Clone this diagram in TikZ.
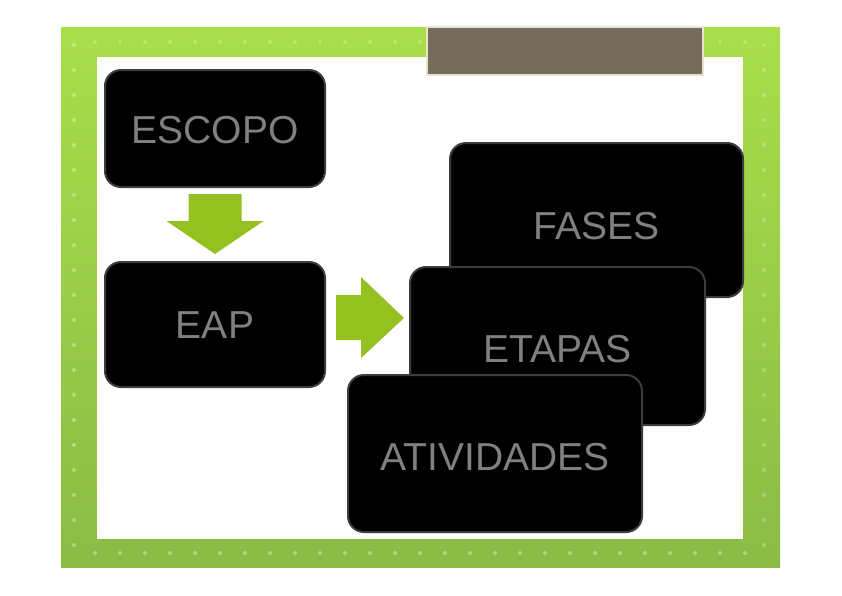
\documentclass[tikz,border=0pt]{standalone}
\usepackage{fontspec}
\setmainfont{Liberation Sans}
\definecolor{frameT}{HTML}{A9DE4B}
\definecolor{frameB}{HTML}{8BBB45}
\definecolor{barc}{HTML}{756C5B}
\definecolor{baredge}{HTML}{E6E4CC}
\definecolor{arrowc}{HTML}{94C11F}
\definecolor{txtc}{HTML}{808080}
\definecolor{boxedge}{HTML}{3C3C3C}
\tikzset{
  blackbox/.style={fill=black, draw=boxedge, line width=2pt, rounded corners=16pt,
    text=txtc, font=\fontsize{39}{45}\selectfont, inner sep=0pt,
    text height=28pt, text depth=0pt},
  greenarrow/.style={fill=arrowc}
}
\begin{document}
\begin{tikzpicture}[x=1pt,y=-1pt]
\useasboundingbox (0,0) rectangle (842,595);
% frame
\fill[top color=frameT, bottom color=frameB] (61,27) rectangle (780,567);
\foreach \yy in {45,70,...,545} {
  \fill[white,opacity=.35] (74,\yy) circle (2);
  \fill[white,opacity=.25] (764,\yy) circle (2);
}
\foreach \xx in {95,120,...,760} {
  \fill[white,opacity=.25] (\xx,42) circle (2);
  \fill[white,opacity=.35] (\xx,553) circle (2);
}
\fill[white] (97,57) rectangle (743,539);
% title bar
\node[name=bar, fill=barc, draw=baredge, line width=2pt, minimum width=276pt, minimum height=48pt, inner sep=0pt] at (565,51) {};
% boxes
\node[blackbox, name=escopo, minimum width=220pt, minimum height=117pt] at (215,128.5) {\raisebox{-1pt}{ESCOPO}};
\node[blackbox, name=eap, minimum width=220pt, minimum height=125pt] at (215,324.5) {EAP};
\node[blackbox, name=fases, minimum width=293pt, minimum height=154pt] at (596.5,220) {\raisebox{-5pt}{FASES}};
\node[blackbox, name=etapas, minimum width=295pt, minimum height=158pt] at (557.5,346) {\raisebox{-2pt}{ETAPAS}};
\node[blackbox, name=atividades, minimum width=294pt, minimum height=157pt] at (495,453.5) {\raisebox{-3pt}{ATIVIDADES}};
% down arrow
\begin{scope}[shift={(escopo.south)}]
\fill[greenarrow] (-26.5,6) -- (26.5,6) -- (26.5,33) -- (48.5,33) -- (0,66) -- (-48.5,33) -- (-26.5,33) -- cycle;
\end{scope}
% right arrow
\begin{scope}[shift={(eap.east)}]
\fill[greenarrow] (10,-29.5) -- (35,-29.5) -- (35,-47.5) -- (78,-6.5) -- (35,33.5) -- (35,15.5) -- (10,15.5) -- cycle;
\end{scope}
\end{tikzpicture}
\end{document}
